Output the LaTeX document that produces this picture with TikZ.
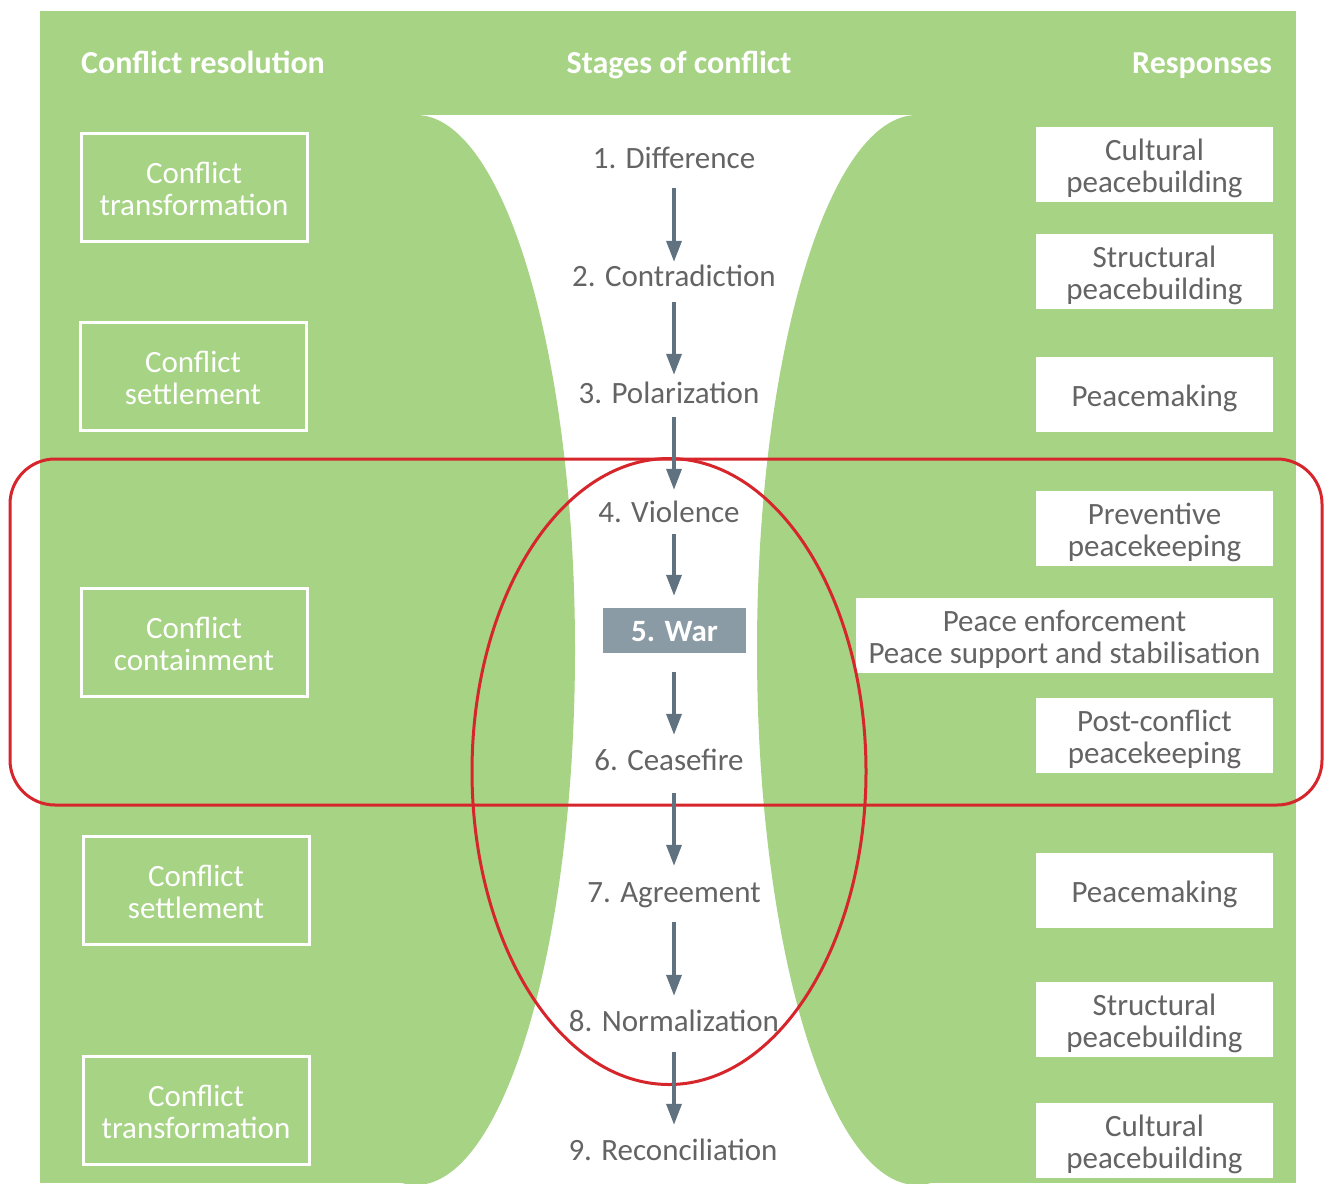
\documentclass[tikz,border=0pt]{standalone}
\usepackage{fontspec}
\setmainfont{Carlito}
\usetikzlibrary{arrows.meta}
\definecolor{leaf}{RGB}{166,211,132}
\definecolor{ink}{RGB}{100,100,100}
\definecolor{slate}{RGB}{96,114,128}
\definecolor{warbox}{RGB}{138,155,166}
\definecolor{alert}{RGB}{214,38,44}
% invisible struts that push a label down inside its box
\newcommand{\liftR}{\rule{0pt}{30pt}}
\newcommand{\liftL}{\rule{0pt}{25pt}}
\begin{document}
\begin{tikzpicture}[x=1pt,y=-1pt,
  every node/.style={font=\fontsize{31}{32}\selectfont},
  head/.style={text=white,font=\fontsize{32}{32}\selectfont\bfseries,inner sep=0pt,anchor=base},
  leftbox/.style={draw=white,line width=3pt,text=white,align=center,
    minimum width=226pt,minimum height=108pt,inner sep=0pt},
  rightbox/.style={fill=white,text=ink,align=center,
    minimum width=237pt,minimum height=75pt,inner sep=0pt},
  stage/.style={text=ink,inner sep=0pt,text height=20pt,text depth=0pt},
  flow/.style={draw=slate,line width=3.5pt,
    -{Triangle[length=21pt,width=15pt]}},
  redline/.style={draw=alert,line width=3pt}]
\useasboundingbox (0,0) rectangle (1324,1183);

% background band and hourglass opening
\fill[leaf] (40,11) rectangle (1296,1183);
\fill[white] (418,115) rectangle (916,1183);
\begin{scope}
  \clip (40,115) rectangle (1296,1183);
  \fill[leaf] (416,650) ellipse [x radius=159pt, y radius=535pt];
  \fill[leaf] (917,650) ellipse [x radius=160pt, y radius=535pt];
\end{scope}

% column headings
\node[head] (hres) at (203,73) {Conflict resolution};
\node[head] (hstg) at (679,73) {Stages of conflict};
\node[head,anchor=base east] (hrsp) at (1272,73) {Responses};

% conflict resolution column
\node[leftbox] (l1) at (194,187.5) {\liftL Conflict\\transformation};
\node[leftbox] (l2) at (193,376) {\liftL Conflict\\settlement};
\node[leftbox] (l3) at (194,642) {\liftL Conflict\\containment};
\node[leftbox] (l4) at (196,890) {\liftL Conflict\\settlement};
\node[leftbox] (l5) at (196,1110.5) {\liftL Conflict\\transformation};

% responses column
\node[rightbox] (r1) at (1154.5,164.5) {\liftR Cultural\\peacebuilding};
\node[rightbox] (r2) at (1154.5,271.5) {\liftR Structural\\peacebuilding};
\node[rightbox] (r3) at (1154.5,394.5) {\liftR Peacemaking};
\node[rightbox] (r4) at (1154.5,528.5) {\liftR Preventive\\peacekeeping};
\node[rightbox,minimum width=417pt] (r5) at (1064.5,635) {\liftR Peace enforcement\\Peace support and stabilisation};
\node[rightbox] (r6) at (1154.5,735.5) {\liftR Post-conflict\\peacekeeping};
\node[rightbox] (r7) at (1154.5,890.5) {\liftR Peacemaking};
\node[rightbox] (r8) at (1154.5,1019.5) {\liftR Structural\\peacebuilding};
\node[rightbox] (r9) at (1154.5,1140.5) {\liftR Cultural\\peacebuilding};

% stages of conflict
\coordinate (axis) at (674,0);
\node[stage] (s1) at (674,158) {1. Difference};
\node[stage] (s2) at (674,276) {2. Contradiction};
\node[stage] (s3) at (669,393) {3. Polarization};
\node[stage] (s4) at (669,512) {4. Violence};
\node[fill=warbox,text=white,font=\fontsize{31}{32}\selectfont\bfseries,
  text height=22pt,text depth=0pt,
  minimum width=143pt,minimum height=45pt,inner sep=0pt] (s5) at (674.5,630.5) {5. War};
\node[stage] (s6) at (669,760) {6. Ceasefire};
\node[stage] (s7) at (674,892) {7. Agreement};
\node[stage] (s8) at (674,1021) {8. Normalization};
\node[stage] (s9) at (673,1150) {9. Reconciliation};

% highlighted phase
\draw[redline,rounded corners=45pt] (10,459) rectangle (1322,805);
\draw[redline] (669,771.5) ellipse [x radius=197pt, y radius=313pt];

% progression arrows
\draw[flow,shorten <=20pt,shorten >=4pt]  (s1.south -| axis) -- (s2.north -| axis);
\draw[flow,shorten <=16pt,shorten >=8pt]  (s2.south -| axis) -- (s3.north -| axis);
\draw[flow,shorten <=14pt,shorten >=12pt] (s3.south -| axis) -- (s4.north -| axis);
\draw[flow,shorten <=12pt,shorten >=12pt] (s4.south -| axis) -- (s5.north -| axis);
\draw[flow,shorten <=19pt,shorten >=15pt] (s5.south -| axis) -- (s6.north -| axis);
\draw[flow,shorten <=23pt,shorten >=16pt] (s6.south -| axis) -- (s7.north -| axis);
\draw[flow,shorten <=20pt,shorten >=15pt] (s7.south -| axis) -- (s8.north -| axis);
\draw[flow,shorten <=21pt,shorten >=15pt] (s8.south -| axis) -- (s9.north -| axis);
\end{tikzpicture}
\end{document}
